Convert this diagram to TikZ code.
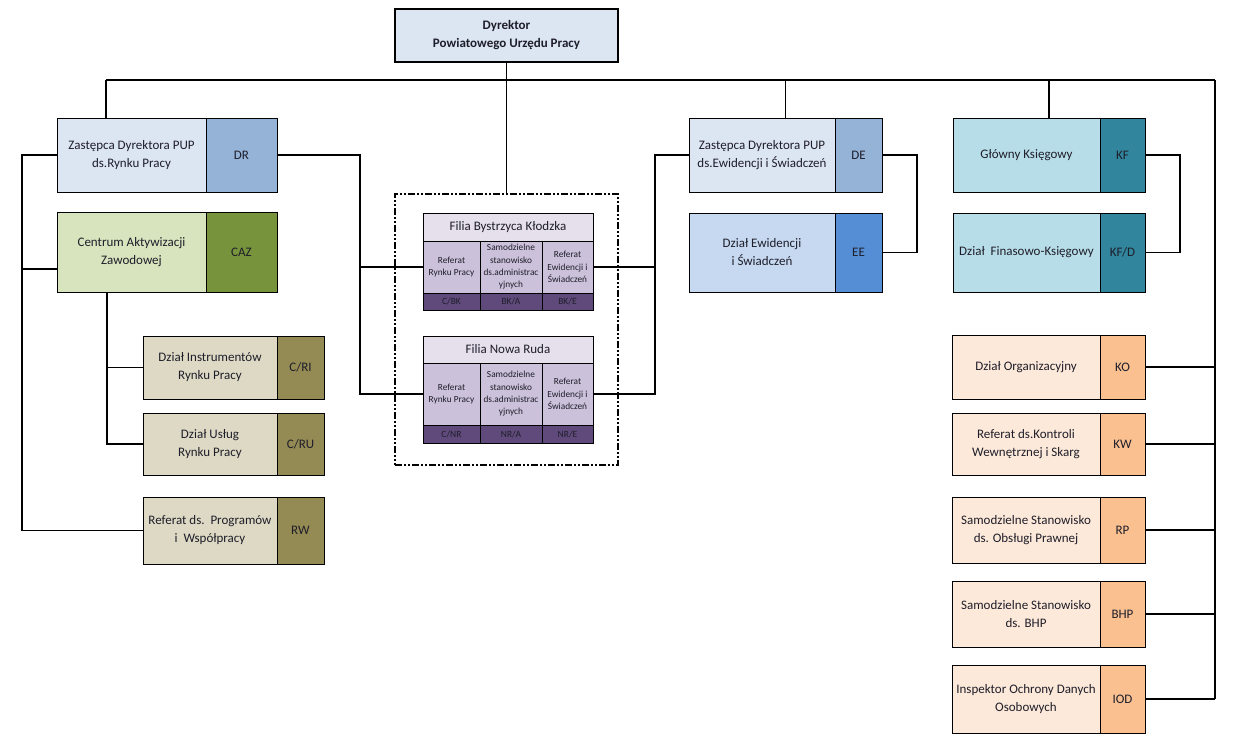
\documentclass[tikz,border=0pt]{standalone}
\usepackage{fontspec}
\setmainfont{Carlito}
\definecolor{ink}{HTML}{1E1E2A}
\definecolor{dirfill}{HTML}{DCE6F2}
\definecolor{dircode}{HTML}{95B3D7}
\definecolor{cazfill}{HTML}{D7E4BD}
\definecolor{cazcode}{HTML}{77933C}
\definecolor{rynfill}{HTML}{DDD9C4}
\definecolor{ryncode}{HTML}{948A54}
\definecolor{eefill}{HTML}{C6D9F1}
\definecolor{eecode}{HTML}{558ED5}
\definecolor{kffill}{HTML}{B7DEE8}
\definecolor{kfcode}{HTML}{31859C}
\definecolor{kofill}{HTML}{FDE9D9}
\definecolor{kocode}{HTML}{FAC090}
\definecolor{filhead}{HTML}{E5E0EC}
\definecolor{filcell}{HTML}{CCC1DA}
\definecolor{filcode}{HTML}{604A7B}
\usetikzlibrary{
    calc,
    positioning,
}
\tikzset{
    box/.style={draw,line width=1pt,inner sep=2pt,outer sep=0pt,align=center,text=ink,font=\fontsize{13}{18}\selectfont},
    fhead/.style={box,fill=filhead},
    fcell/.style={box,fill=filcell,inner sep=1pt,font=\fontsize{9.3}{12.3}\selectfont},
    fcode/.style={box,fill=filcode,inner sep=1pt,font=\fontsize{9.5}{11}\selectfont},
    link/.style={line width=1.2pt},
}

\begin{document}
\begin{tikzpicture}[x=1pt,y=-1pt]
    \useasboundingbox (0,0) rectangle (1235,742);
    % dyrektor
    \node[box,fill=dirfill,line width=2.5pt,minimum width=223pt,minimum height=53pt,font=\bfseries\fontsize{13}{18}\selectfont,anchor=north west] (dir) at (395,9) {Dyrektor\\Powiatowego Urzędu Pracy};
    % left column
    \node[box,fill=dirfill,minimum width=149pt,minimum height=74pt,anchor=north west] (dr) at (57,118) {Zastępca Dyrektora PUP\\ds.Rynku Pracy};
    \node[box,fill=dircode,minimum width=71pt,minimum height=74pt,right=0pt of dr] (drc) {DR};
    \node[box,fill=cazfill,minimum width=149pt,minimum height=80pt,anchor=north west] (caz) at (57,212) {Centrum Aktywizacji\\Zawodowej};
    \node[box,fill=cazcode,minimum width=71pt,minimum height=80pt,right=0pt of caz] (cazc) {CAZ};
    \node[box,fill=rynfill,minimum width=134pt,minimum height=63pt,anchor=north west] (cri) at (143,336) {Dział Instrumentów\\Rynku Pracy};
    \node[box,fill=ryncode,minimum width=47pt,minimum height=63pt,right=0pt of cri] (cric) {C/RI};
    \node[box,fill=rynfill,minimum width=134pt,minimum height=62pt,anchor=north west] (cru) at (143,413) {Dział Usług\\Rynku Pracy};
    \node[box,fill=ryncode,minimum width=47pt,minimum height=62pt,right=0pt of cru] (cruc) {C/RU};
    \node[box,fill=rynfill,minimum width=134pt,minimum height=67pt,anchor=north west] (rw) at (143,497) {Referat ds.\ \ Programów\\i\ \ Współpracy};
    \node[box,fill=ryncode,minimum width=47pt,minimum height=67pt,right=0pt of rw] (rwc) {RW};
    % filie
    \node[draw,line width=2pt,dash pattern=on 7pt off 2pt on 2pt off 2pt on 2pt off 2pt,minimum width=223pt,minimum height=271pt,anchor=north west] (fil) at (394,193) {};
    \node[fhead,minimum width=170pt,minimum height=28pt,anchor=north west] (bkhead) at (423,213) {Filia Bystrzyca Kłodzka};
    \node[fcell,minimum width=57pt,minimum height=52pt,below right=0pt and 0pt of bkhead.south west] (bkrp) {Referat\\Rynku Pracy};
    \node[fcell,minimum width=62pt,minimum height=52pt,right=0pt of bkrp] (bkad) {Samodzielne\\stanowisko\\ds.administrac\\yjnych};
    \node[fcell,minimum width=51pt,minimum height=52pt,right=0pt of bkad] (bkre) {Referat\\Ewidencji i\\Świadczeń};
    \node[fcode,minimum width=57pt,minimum height=17pt,below=0pt of bkrp] (bkrpc) {C/BK};
    \node[fcode,minimum width=62pt,minimum height=17pt,below=0pt of bkad] (bkadc) {BK/A};
    \node[fcode,minimum width=51pt,minimum height=17pt,below=0pt of bkre] (bkrec) {BK/E};
    \node[fhead,minimum width=170pt,minimum height=27pt,anchor=north west] (nrhead) at (423,336) {Filia Nowa Ruda};
    \node[fcell,minimum width=57pt,minimum height=62pt,below right=0pt and 0pt of nrhead.south west] (nrrp) {Referat\\Rynku Pracy};
    \node[fcell,minimum width=62pt,minimum height=62pt,right=0pt of nrrp] (nrad) {Samodzielne\\stanowisko\\ds.administrac\\yjnych};
    \node[fcell,minimum width=51pt,minimum height=62pt,right=0pt of nrad] (nrre) {Referat\\Ewidencji i\\Świadczeń};
    \node[fcode,minimum width=57pt,minimum height=18pt,below=0pt of nrrp] (nrrpc) {C/NR};
    \node[fcode,minimum width=62pt,minimum height=18pt,below=0pt of nrad] (nradc) {NR/A};
    \node[fcode,minimum width=51pt,minimum height=18pt,below=0pt of nrre] (nrrec) {NR/E};
    % ewidencja
    \node[box,fill=dirfill,minimum width=146pt,minimum height=74pt,anchor=north west] (de) at (689,118) {Zastępca Dyrektora PUP\\ds.Ewidencji i Świadczeń};
    \node[box,fill=dircode,minimum width=47pt,minimum height=74pt,right=0pt of de] (dec) {DE};
    \node[box,fill=eefill,minimum width=146pt,minimum height=79pt,anchor=north west] (ee) at (689,213) {Dział Ewidencji\\i Świadczeń};
    \node[box,fill=eecode,minimum width=47pt,minimum height=79pt,right=0pt of ee] (eec) {EE};
    % finanse
    \node[box,fill=kffill,minimum width=147pt,minimum height=74pt,anchor=north west] (kf) at (953,118) {Główny Księgowy};
    \node[box,fill=kfcode,minimum width=45pt,minimum height=74pt,right=0pt of kf] (kfc) {KF};
    \node[box,fill=kffill,minimum width=147pt,minimum height=79pt,anchor=north west] (kfd) at (953,213) {Dział\ \ Finasowo-Księgowy};
    \node[box,fill=kfcode,minimum width=45pt,minimum height=79pt,right=0pt of kfd] (kfdc) {KF/D};
    % right column
    \node[box,fill=kofill,minimum width=148pt,minimum height=64pt,anchor=north west] (ko) at (952,335) {Dział Organizacyjny};
    \node[box,fill=kocode,minimum width=45pt,minimum height=64pt,right=0pt of ko] (koc) {KO};
    \node[box,fill=kofill,minimum width=148pt,minimum height=62pt,anchor=north west] (kw) at (952,413) {Referat ds.Kontroli\\Wewnętrznej i Skarg};
    \node[box,fill=kocode,minimum width=45pt,minimum height=62pt,right=0pt of kw] (kwc) {KW};
    \node[box,fill=kofill,minimum width=148pt,minimum height=66pt,anchor=north west] (rp) at (952,497) {Samodzielne Stanowisko\\ds. Obsługi Prawnej};
    \node[box,fill=kocode,minimum width=45pt,minimum height=66pt,right=0pt of rp] (rpc) {RP};
    \node[box,fill=kofill,minimum width=148pt,minimum height=66pt,anchor=north west] (bhp) at (952,581) {Samodzielne Stanowisko\\ds. BHP};
    \node[box,fill=kocode,minimum width=45pt,minimum height=66pt,right=0pt of bhp] (bhpc) {BHP};
    \node[box,fill=kofill,minimum width=148pt,minimum height=68pt,anchor=north west] (iod) at (952,665) {Inspektor Ochrony Danych\\Osobowych};
    \node[box,fill=kocode,minimum width=45pt,minimum height=68pt,right=0pt of iod] (iodc) {IOD};

    % connectors
    \coordinate (busl) at (106,80);
    \coordinate (busr) at (1215,80);
    \coordinate (detop) at ($(de.north west)!.5!(dec.north east)$);
    \coordinate (kftop) at ($(kf.north west)!.5!(kfc.north east)$);
    \draw[link] (busl) -- (busr);
    \draw[link] (dir.south) -- (fil.north);
    \draw[link] (busl) -- (busl |- dr.north);
    \draw[link] (detop |- busl) -- (detop);
    \draw[link] (kftop |- busl) -- (kftop);
    \draw[link] (busr) -- (busr |- iodc.east);
    \draw[link] (koc.east) -- (koc.east -| busr);
    \draw[link] (kwc.east) -- (kwc.east -| busr);
    \draw[link] (rpc.east) -- (rpc.east -| busr);
    \draw[link] (bhpc.east) -- (bhpc.east -| busr);
    \draw[link] (iodc.east) -- (iodc.east -| busr);

    \coordinate (lv) at ($(dr.west)+(-35,0)$);
    \coordinate (cazin) at ($(caz.west)+(0,17)$);
    \coordinate (cb) at ($(caz.south west)+(50,0)$);
    \draw[link] (dr.west) -- (lv) |- (rw.west);
    \draw[link] (cazin) -- (cazin -| lv);
    \draw[link] (cb) |- (cru.west);
    \draw[link] (cb |- cri.west) -- (cri.west);

    \coordinate (rv) at ($(drc.east)+(83,0)$);
    \coordinate (mv) at ($(de.west)+(-34,0)$);
    \draw[link] (drc.east) -- (rv) |- (nrrp.west);
    \draw[link] (bkrp.west) -- (bkrp.west -| rv);
    \draw[link] (de.west) -- (mv) |- (nrre.east);
    \draw[link] (bkre.east) -- (bkre.east -| mv);
    \draw[link] (dec.east) -- ++(35,0) |- (eec.east);
    \draw[link] (kfc.east) -- ++(35,0) |- (kfdc.east);
\end{tikzpicture}
\end{document}
